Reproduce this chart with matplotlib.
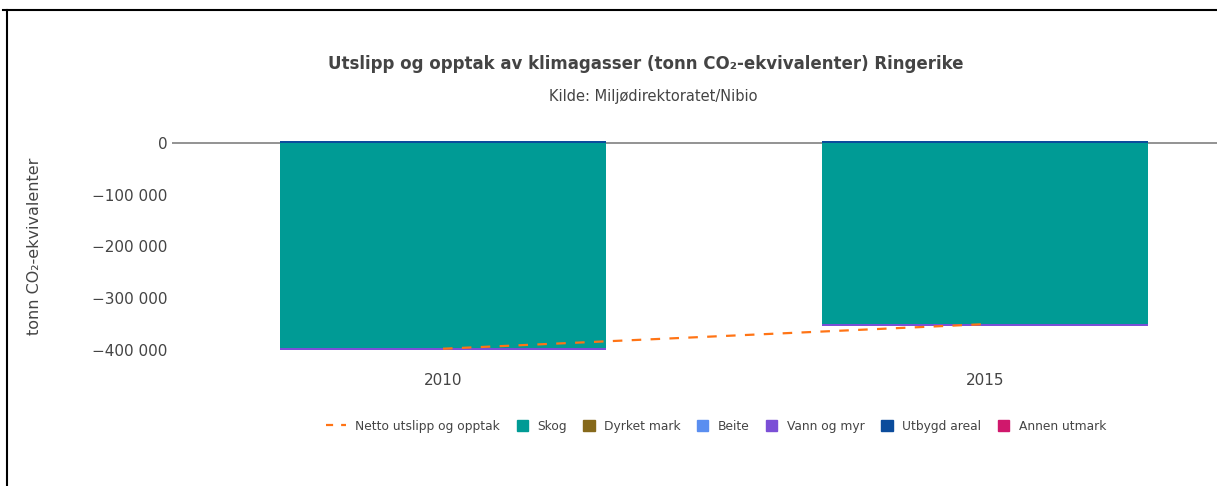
import matplotlib
matplotlib.use("Agg")
import matplotlib.pyplot as plt
import matplotlib.patches as mpatches
from matplotlib.legend_handler import HandlerPatch
from matplotlib.lines import Line2D
import numpy as np

# ── Data ──────────────────────────────────────────────────────────────────────
years = ["2010", "2015"]
skog = [-397000, -350000]
dyrket_mark = [600, 500]
beite = [200, 200]
vann_og_myr = [-3500, -3000]
utbygd_areal = [2600, 2400]
annen_utmark = [0, 0]
netto = [-397500, -350000]

series = [
    ("Skog", skog, "#009b95"),
    ("Dyrket mark", dyrket_mark, "#86691b"),
    ("Beite", beite, "#5a8ef0"),
    ("Vann og myr", vann_og_myr, "#7b4fd6"),
    ("Utbygd areal", utbygd_areal, "#0b4c9c"),
    ("Annen utmark", annen_utmark, "#d0186c"),
]

_TXT = "#444444"
W, H = 1217, 486

fig = plt.figure(figsize=(W / 100, H / 100), dpi=100)
ax = fig.add_axes([172 / W, 1 - 355.2 / H, 1084 / W, (355.2 - 137.8) / H])

x = np.arange(len(years))
pos_base = np.zeros(len(years))
neg_base = np.zeros(len(years))
for name, vals, color in series:
    v = np.array(vals, dtype=float)
    base = np.where(v >= 0, pos_base, neg_base)
    ax.bar(x, v, bottom=base, width=0.6, color=color, linewidth=0, zorder=3)
    pos_base += np.where(v >= 0, v, 0)
    neg_base += np.where(v < 0, v, 0)

ax.plot(x, netto, color="#ff7415", linewidth=1.6, dashes=(4.3, 4.2), zorder=4)
ax.axhline(0, color="#8a8a8a", linewidth=1.3, zorder=2)

ax.set_xlim(-0.5, 1.5)
ax.set_ylim(-410000, 10000)
ax.set_xticks(x)
ax.set_xticklabels(years, fontsize=11, color=_TXT)
yt = [0, -100000, -200000, -300000, -400000]
ax.set_yticks(yt)
ax.set_yticklabels(["0" if t == 0 else "\u2212" + f"{abs(t):,}".replace(",", " ") for t in yt],
                   fontsize=11, color=_TXT)
ax.tick_params(axis="both", length=0)
ax.tick_params(axis="x", pad=13)
ax.tick_params(axis="y", pad=3)
for s in ax.spines.values():
    s.set_visible(False)
ax.set_ylabel("tonn CO\u2082-ekvivalenter", fontsize=11.5, color=_TXT)
ax.yaxis.set_label_coords((42 - 172) / 1084, 0.5)

fig.text(646 / W, 1 - 64 / H, "Utslipp og opptak av klimagasser (tonn CO\u2082-ekvivalenter) Ringerike",
         ha="center", va="center", fontsize=12, fontweight="bold", color=_TXT)
fig.text(653 / W, 1 - 96 / H, "Kilde: Miljødirektoratet/Nibio",
         ha="center", va="center", fontsize=10.5, color=_TXT)


def _square(legend, orig_handle, xdescent, ydescent, width, height, fontsize):
    s = 8.0
    return mpatches.Rectangle((width - s - xdescent, (height - s) / 2 - ydescent), s, s)


handles = [Line2D([0], [0], color="#ff7415", linewidth=1.6, dashes=(3.2, 3.6))]
labels = ["Netto utslipp og opptak"]
for name, vals, color in series:
    handles.append(mpatches.Patch(color=color))
    labels.append(name)
fig.legend(handles, labels, loc="center", bbox_to_anchor=(716 / W, 1 - 426 / H), ncol=7,
           frameon=False, fontsize=8.8, labelcolor=_TXT, handlelength=1.6, handleheight=1.0,
           handletextpad=0.8, columnspacing=0.65,
           handler_map={mpatches.Patch: HandlerPatch(patch_func=_square)})

# outer frame lines
fig.add_artist(Line2D([3 / W, 1], [1 - 10.5 / H] * 2, color="black", linewidth=1.5))
fig.add_artist(Line2D([7 / W] * 2, [0, 1 - 10.5 / H], color="black", linewidth=1.5))

fig.savefig("out.png", dpi=100)
